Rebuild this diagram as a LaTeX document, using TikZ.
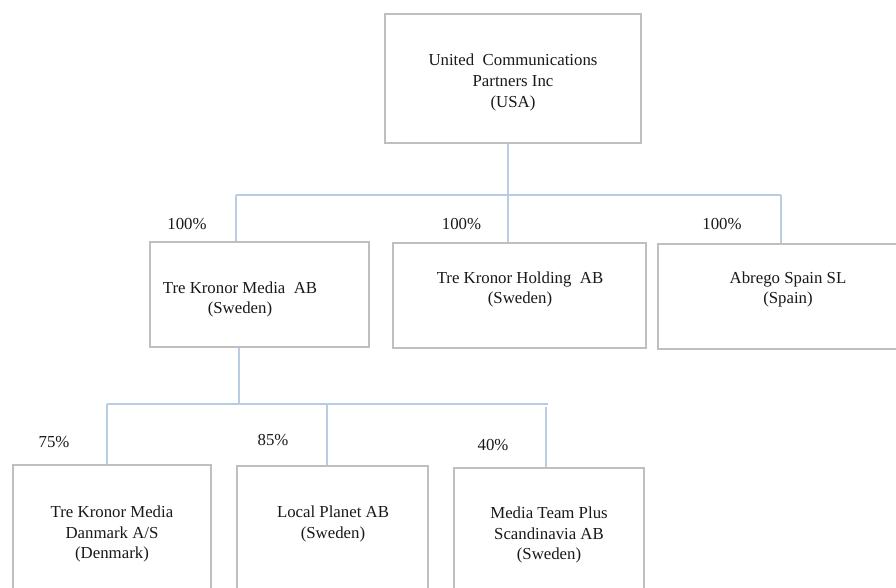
\documentclass[tikz,border=0pt]{standalone}
\usepackage{fontspec}
\setmainfont{Liberation Serif}
\definecolor{boxgray}{HTML}{BFBFBF}
\definecolor{connblue}{HTML}{B8CCE4}
\begin{document}
\begin{tikzpicture}[x=1pt,y=-1pt,
  orgbox/.style={draw=boxgray,line width=1.6pt,rectangle,inner sep=0pt,fill=white},
  txt/.style={align=center,inner sep=0pt,font=\fontsize{16.8}{20.6}\selectfont,text=black!90},
  pct/.style={inner sep=0pt,font=\fontsize{16.8}{20.6}\selectfont,text=black!90},
  conn/.style={draw=connblue,line width=1.8pt}]
\useasboundingbox (0,0) rectangle (896,587);
\clip (0,0) rectangle (896,587);
% boxes
\node[orgbox,minimum width=256pt,minimum height=129pt] (top) at (513,78.5) {};
\node[orgbox,minimum width=219pt,minimum height=105pt] (tkm) at (259.5,294.5) {};
\node[orgbox,minimum width=253pt,minimum height=105pt] (hold) at (519.5,295.5) {};
\node[orgbox,minimum width=250pt,minimum height=105pt] (abr) at (783,296.5) {};
\node[orgbox,minimum width=198pt,minimum height=140pt] (dk) at (112,535) {};
\node[orgbox,minimum width=191pt,minimum height=140pt] (lp) at (332.5,536) {};
\node[orgbox,minimum width=190pt,minimum height=140pt] (mt) at (549,538) {};
% texts
\node[txt] (ttop) at (513,82.5) {United\ \ Communications\\Partners Inc\\(USA)};
\node[txt] (ttkm) at (240,299.5) {Tre Kronor Media\ \ AB\\(Sweden)};
\node[txt] (thold) at (520,289.5) {Tre Kronor Holding\ \ AB\\(Sweden)};
\node[txt] (tabr) at (788,289.5) {Abrego Spain SL\\(Spain)};
\node[txt] (tdk) at (112,534) {Tre Kronor Media\\Danmark A/S\\(Denmark)};
\node[txt] (tlp) at (333,524) {Local Planet\ AB\\(Sweden)};
\node[txt] (tmt) at (549,535) {Media Team Plus\\Scandinavia\ AB\\(Sweden)};
% percentages
\node[pct] (p1) at (187,224) {100\%};
\node[pct] (p2) at (461.5,224) {100\%};
\node[pct] (p3) at (722,224) {100\%};
\node[pct] (p4) at (54,442) {75\%};
\node[pct] (p5) at (273,440) {85\%};
\node[pct] (p6) at (493,445) {40\%};
% connectors level 1
\coordinate (j1) at (508,195);
\coordinate (h1L) at (236,195);
\coordinate (h1R) at (781,195);
\draw[conn] (h1L) -- (h1R);
\draw[conn] (top.south -| j1) -- (j1) -- (hold.north -| j1);
\draw[conn] (h1L) -- (tkm.north -| h1L);
\draw[conn] (h1R) -- (abr.north -| h1R);
% connectors level 2
\coordinate (j2) at (239,404);
\coordinate (h2L) at (107,404);
\coordinate (h2R) at (548,404);
\coordinate (j3) at (327,404);
\coordinate (j4) at (546,407);
\draw[conn] (h2L) -- (h2R);
\draw[conn] (tkm.south -| j2) -- (j2);
\draw[conn] (h2L) -- (dk.north -| h2L);
\draw[conn] (j3) -- (lp.north -| j3);
\draw[conn] (j4) -- (mt.north -| j4);
\end{tikzpicture}
\end{document}
